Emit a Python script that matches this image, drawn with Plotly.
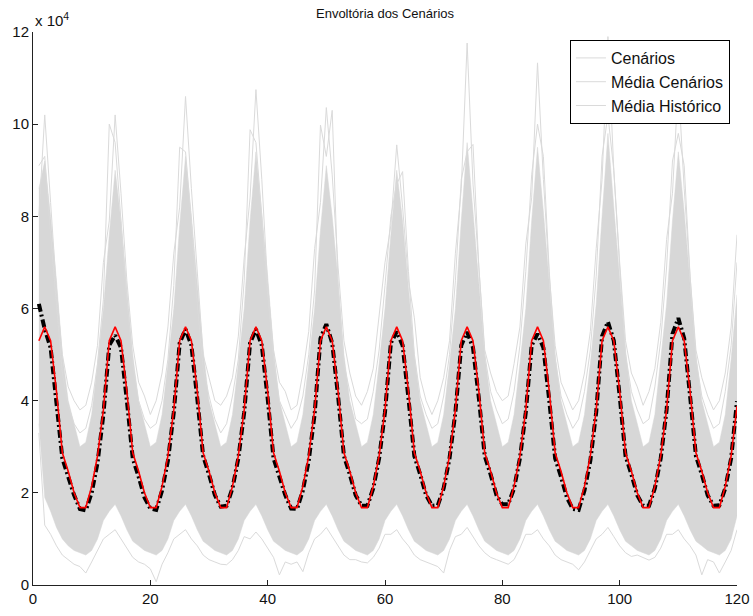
import plotly.graph_objects as go

# x axis: month index 1..120
months = list(range(1, 121))

# All values in units of 10^4 (axis shows "x 10^4")
# Historical mean (red), one row per year, 12 months each
hist_mean_rows = [
    [5.30, 5.60, 5.30, 4.20, 2.87, 2.47, 2.00, 1.68, 1.68, 2.14, 2.80, 3.80],
    [5.30, 5.60, 5.30, 4.20, 2.87, 2.47, 2.00, 1.68, 1.68, 2.14, 2.80, 3.80],
    [5.30, 5.60, 5.30, 4.20, 2.87, 2.47, 2.00, 1.68, 1.68, 2.14, 2.80, 3.80],
    [5.30, 5.60, 5.30, 4.20, 2.87, 2.47, 2.00, 1.68, 1.68, 2.14, 2.80, 3.80],
    [5.30, 5.60, 5.30, 4.20, 2.87, 2.47, 2.00, 1.68, 1.68, 2.14, 2.80, 3.80],
    [5.30, 5.60, 5.30, 4.20, 2.87, 2.47, 2.00, 1.68, 1.68, 2.14, 2.80, 3.80],
    [5.30, 5.60, 5.30, 4.20, 2.87, 2.47, 2.00, 1.68, 1.68, 2.14, 2.80, 3.80],
    [5.30, 5.60, 5.30, 4.20, 2.87, 2.47, 2.00, 1.68, 1.68, 2.14, 2.80, 3.80],
    [5.30, 5.60, 5.30, 4.20, 2.87, 2.47, 2.00, 1.68, 1.68, 2.14, 2.80, 3.80],
    [5.30, 5.60, 5.30, 4.20, 2.87, 2.47, 2.00, 1.68, 1.68, 2.14, 2.80, 3.88],
]

# Scenario mean (black dash-dot)
scen_mean_rows = [
    [6.10, 5.55, 5.15, 4.00, 2.75, 2.35, 1.95, 1.65, 1.62, 2.00, 2.65, 3.70],
    [5.20, 5.42, 5.15, 4.00, 2.75, 2.35, 1.90, 1.66, 1.63, 2.05, 2.70, 3.75],
    [5.25, 5.55, 5.20, 4.05, 2.80, 2.40, 1.95, 1.70, 1.72, 2.10, 2.75, 3.75],
    [5.25, 5.55, 5.20, 4.05, 2.75, 2.35, 1.95, 1.66, 1.65, 2.05, 2.70, 3.70],
    [5.35, 5.66, 5.25, 4.10, 2.80, 2.40, 1.95, 1.72, 1.72, 2.10, 2.75, 3.75],
    [5.25, 5.50, 5.20, 4.05, 2.80, 2.40, 1.95, 1.72, 1.73, 2.10, 2.75, 3.75],
    [5.20, 5.49, 5.15, 4.05, 2.80, 2.40, 1.95, 1.75, 1.75, 2.10, 2.75, 3.75],
    [5.20, 5.45, 5.15, 4.00, 2.75, 2.35, 1.90, 1.65, 1.63, 2.05, 2.70, 3.75],
    [5.40, 5.71, 5.30, 4.10, 2.80, 2.40, 1.95, 1.72, 1.72, 2.10, 2.75, 3.80],
    [5.45, 5.79, 5.35, 4.10, 2.80, 2.40, 1.95, 1.72, 1.73, 2.10, 2.75, 3.99],
]

# Dense scenario band: upper and lower boundary
band_upper_rows = [
    [8.6, 9.2, 8.0, 6.6, 5.0, 4.0, 3.5, 3.0, 3.1, 3.7, 4.8, 6.0],
    [7.6, 9.0, 7.9, 6.5, 5.0, 4.0, 3.5, 3.0, 3.1, 3.7, 4.8, 6.0],
    [7.8, 9.3, 8.0, 6.6, 5.1, 4.0, 3.5, 3.0, 3.1, 3.7, 4.8, 6.0],
    [7.9, 9.4, 8.05, 6.7, 5.1, 4.0, 3.5, 3.0, 3.1, 3.7, 4.8, 6.0],
    [7.7, 9.1, 8.0, 6.6, 5.0, 4.0, 3.5, 3.0, 3.1, 3.7, 4.8, 6.0],
    [7.6, 9.0, 7.9, 6.5, 5.0, 4.0, 3.5, 3.0, 3.1, 3.7, 4.8, 6.0],
    [7.9, 9.6, 8.1, 6.6, 5.0, 4.0, 3.5, 3.0, 3.1, 3.7, 4.8, 6.0],
    [7.9, 9.5, 8.1, 6.6, 5.0, 4.0, 3.5, 3.0, 3.1, 3.7, 4.8, 6.1],
    [8.0, 9.8, 8.2, 6.7, 5.1, 4.0, 3.5, 3.0, 3.1, 3.7, 4.9, 6.1],
    [7.9, 9.4, 8.1, 6.6, 5.0, 4.0, 3.5, 3.0, 3.1, 3.7, 4.9, 6.3],
]
band_lower_rows = [
    [3.5, 1.9, 1.6, 1.25, 1.0, 0.85, 0.75, 0.7, 0.65, 0.75, 1.0, 1.4],
    [1.6, 1.75, 1.5, 1.2, 0.95, 0.85, 0.75, 0.7, 0.65, 0.75, 1.0, 1.4],
    [1.6, 1.75, 1.5, 1.2, 0.95, 0.85, 0.75, 0.7, 0.65, 0.75, 1.0, 1.4],
    [1.6, 1.75, 1.5, 1.2, 0.95, 0.85, 0.75, 0.7, 0.65, 0.75, 1.0, 1.4],
    [1.6, 1.75, 1.5, 1.2, 0.95, 0.85, 0.75, 0.7, 0.65, 0.75, 1.0, 1.4],
    [1.6, 1.75, 1.5, 1.2, 0.95, 0.85, 0.75, 0.7, 0.65, 0.75, 1.0, 1.4],
    [1.6, 1.75, 1.5, 1.2, 0.95, 0.85, 0.75, 0.7, 0.65, 0.75, 1.0, 1.4],
    [1.6, 1.75, 1.5, 1.2, 0.95, 0.85, 0.75, 0.7, 0.65, 0.75, 1.0, 1.4],
    [1.6, 1.75, 1.5, 1.2, 0.95, 0.85, 0.75, 0.7, 0.65, 0.75, 1.0, 1.4],
    [1.6, 1.75, 1.5, 1.2, 0.95, 0.85, 0.75, 0.7, 0.65, 0.75, 1.0, 1.5],
]

# Outlying individual scenarios (thin grey lines)
scen_high_rows = [
    [8.0, 10.2, 8.3, 6.4, 5.0, 4.3, 4.0, 3.8, 3.9, 4.4, 5.2, 7.0],
    [7.9, 10.2, 8.5, 6.6, 5.2, 4.4, 4.1, 3.7, 4.0, 4.6, 5.6, 7.2],
    [8.2, 10.6, 8.6, 6.8, 5.0, 4.5, 4.0, 3.9, 4.1, 4.5, 5.4, 7.1],
    [8.4, 10.75, 8.8, 6.5, 5.1, 4.4, 4.2, 3.8, 3.9, 4.6, 5.5, 7.3],
    [8.3, 10.36, 8.9, 6.9, 5.3, 4.6, 4.1, 3.9, 4.2, 4.7, 5.8, 7.0],
    [7.8, 9.55, 8.2, 6.6, 5.8, 4.5, 4.0, 3.7, 4.0, 4.5, 5.3, 7.2],
    [8.6, 11.76, 8.7, 6.8, 5.1, 4.6, 4.2, 4.0, 4.1, 4.8, 5.6, 7.4],
    [8.4, 11.33, 8.8, 6.7, 5.2, 4.4, 4.1, 3.8, 4.0, 4.6, 5.5, 7.3],
    [8.8, 11.9, 9.0, 7.0, 5.3, 4.6, 4.3, 3.9, 4.2, 4.7, 5.7, 7.5],
    [8.5, 10.9, 8.6, 6.7, 5.1, 4.5, 4.1, 3.8, 4.0, 4.6, 5.6, 7.6],
]
scen_low_rows = [
    [3.3, 1.3, 1.1, 0.85, 0.65, 0.55, 0.45, 0.4, 0.26, 0.5, 0.75, 1.0],
    [1.1, 1.2, 1.0, 0.8, 0.6, 0.5, 0.45, 0.35, 0.07, 0.45, 0.7, 1.0],
    [1.1, 1.2, 1.0, 0.85, 0.65, 0.55, 0.5, 0.45, 0.44, 0.55, 0.75, 1.05],
    [1.0, 1.15, 1.0, 0.8, 0.6, 0.22, 0.5, 0.45, 0.5, 0.29, 0.7, 1.0],
    [1.1, 1.25, 1.05, 0.85, 0.65, 0.55, 0.55, 0.5, 0.48, 0.6, 0.8, 1.1],
    [1.1, 1.2, 1.0, 0.85, 0.65, 0.55, 0.5, 0.45, 0.4, 0.26, 0.75, 1.05],
    [1.1, 1.25, 1.05, 0.85, 0.7, 0.6, 0.55, 0.5, 0.45, 0.55, 0.8, 1.1],
    [1.1, 1.2, 1.0, 0.85, 0.65, 0.55, 0.5, 0.45, 0.33, 0.5, 0.75, 1.0],
    [1.1, 1.25, 1.05, 0.85, 0.7, 0.62, 0.65, 0.6, 0.54, 0.6, 0.8, 1.1],
    [1.1, 1.2, 1.0, 0.85, 0.65, 0.22, 0.55, 0.5, 0.26, 0.5, 0.75, 1.2],
]
scen_mid_rows = [
    [9.1, 9.3, 7.6, 6.0, 4.6, 3.9, 3.5, 3.3, 3.4, 3.9, 4.8, 6.2],
    [10.0, 9.6, 7.8, 6.2, 4.8, 4.0, 3.6, 3.4, 3.5, 4.0, 4.9, 6.5],
    [9.5, 9.4, 7.9, 6.1, 4.7, 4.1, 3.6, 3.3, 3.5, 4.1, 4.9, 6.6],
    [9.88, 9.6, 8.0, 6.3, 4.9, 4.0, 3.7, 3.4, 3.6, 4.1, 5.0, 6.4],
    [9.98, 9.3, 10.3, 6.5, 4.8, 4.2, 3.6, 3.5, 3.6, 4.2, 5.1, 6.5],
    [8.0, 8.7, 8.97, 6.8, 5.0, 4.1, 3.7, 3.4, 3.5, 4.1, 5.0, 6.6],
    [8.8, 9.4, 9.56, 6.9, 5.0, 4.2, 3.8, 3.5, 3.6, 4.2, 5.2, 6.8],
    [8.9, 10.0, 9.3, 6.8, 4.9, 4.1, 3.7, 3.4, 3.6, 4.2, 5.1, 6.7],
    [9.3, 10.2, 9.0, 6.9, 5.0, 4.2, 3.8, 3.5, 3.6, 4.3, 5.3, 6.9],
    [9.2, 9.8, 9.1, 6.7, 4.9, 4.1, 3.7, 3.4, 3.5, 4.2, 5.2, 7.0],
]

y_tick_vals = [0, 2, 4, 6, 8, 10, 12]
y_tick_text = ["0", "2", "4", "6", "8", "10", "12"]
x_tick_vals = [0, 20, 40, 60, 80, 100, 120]
legend_names = ["Cenários", "Média Cenários", "Média Histórico"]


def flat(rows):
    return [v for r in rows for v in r]


hist_mean = flat(hist_mean_rows)
scen_mean = flat(scen_mean_rows)
band_upper = flat(band_upper_rows)
band_lower = flat(band_lower_rows)
scen_high = flat(scen_high_rows)
scen_low = flat(scen_low_rows)
scen_mid = flat(scen_mid_rows)

GREY = "#d7d7d7"
LINE_GREY = "#dadada"
FONT = "Liberation Sans, Arial, sans-serif"

fig = go.Figure()
fig.add_trace(go.Scatter(x=months, y=band_lower, mode="lines",
                         line=dict(width=0.5, color=GREY), showlegend=False,
                         hoverinfo="skip"))
fig.add_trace(go.Scatter(x=months, y=band_upper, mode="lines", fill="tonexty",
                         fillcolor=GREY, line=dict(width=0.5, color=GREY),
                         showlegend=False, hoverinfo="skip"))
fig.add_trace(go.Scatter(x=months, y=scen_high, mode="lines", name=legend_names[0],
                         line=dict(width=1, color=LINE_GREY)))
fig.add_trace(go.Scatter(x=months, y=scen_low, mode="lines", name=legend_names[1],
                         line=dict(width=1, color=LINE_GREY)))
fig.add_trace(go.Scatter(x=months, y=scen_mid, mode="lines", name=legend_names[2],
                         line=dict(width=1, color=LINE_GREY)))
fig.add_trace(go.Scatter(x=months, y=scen_mean, mode="lines", showlegend=False,
                         line=dict(width=4, color="black", dash="8px,3px,2px,3px")))
fig.add_trace(go.Scatter(x=months, y=hist_mean, mode="lines", showlegend=False,
                         line=dict(width=1.6, color="#ff0000")))

axis_common = dict(showgrid=False, zeroline=False, showline=True, linecolor="#222",
                   linewidth=1, ticks="inside", ticklen=5, tickcolor="#222",
                   tickfont=dict(family=FONT, size=15, color="#111"), mirror=False,
                   automargin=False)

fig.update_layout(
    width=753, height=616,
    margin=dict(l=33, r=16, t=32, b=31, autoexpand=False),
    paper_bgcolor="white", plot_bgcolor="white",
    title=dict(text="Envoltória dos Cenários", x=0.5, xref="paper",
               y=1 - 13 / 616, yref="container", yanchor="middle",
               font=dict(family=FONT, size=13, color="#111")),
    xaxis=dict(range=[0, 120], tickvals=x_tick_vals, **axis_common),
    yaxis=dict(range=[0, 12], tickvals=y_tick_vals, ticktext=y_tick_text, **axis_common),
    legend=dict(x=0.99, xanchor="right", y=0.9855, yanchor="top",
                traceorder="normal",
                bgcolor="white", bordercolor="black", borderwidth=1,
                font=dict(family=FONT, size=16, color="#111"), tracegroupgap=0),
    annotations=[dict(text="x 10<sup>4</sup>", xref="paper", yref="paper",
                      x=0, y=(585 - 20) / 553, xanchor="left", yanchor="middle",
                      showarrow=False, font=dict(family=FONT, size=15, color="#111"))],
)

fig.write_html("out.html")
